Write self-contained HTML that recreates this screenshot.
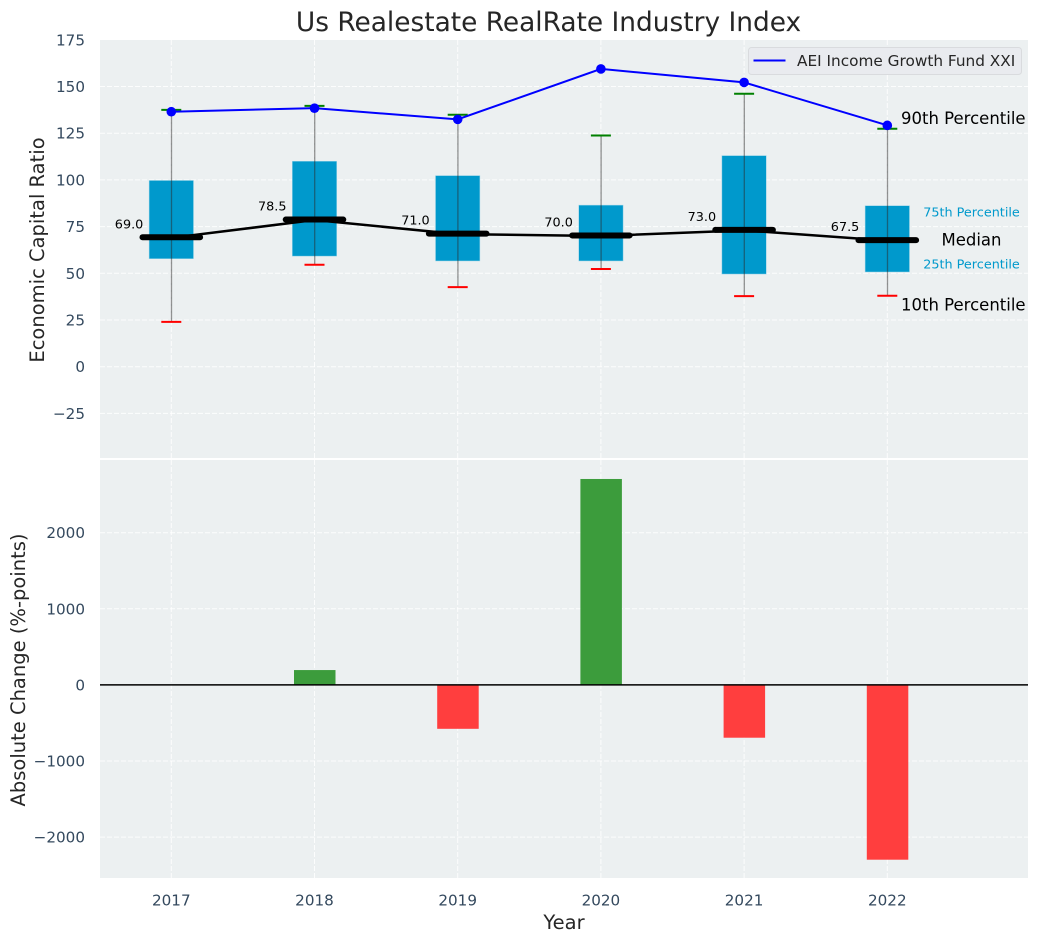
<!DOCTYPE html>
<html lang="en">
<head>
<meta charset="utf-8">
<title>Us Realestate RealRate Industry Index</title>
<style>
html,body{margin:0;padding:0;background:#fff;}
svg{display:block;font-family:"DejaVu Sans","Liberation Sans",sans-serif;}
</style>
</head>
<body>
<svg id="chart" xmlns="http://www.w3.org/2000/svg" width="1039" height="942" viewBox="0 0 1039 942">
<rect x="100" y="40" width="928" height="418" fill="#ecf0f1"/>
<rect x="100" y="460" width="928" height="418" fill="#ecf0f1"/>
<g id="grid"></g>
<g id="bars"></g>
<g id="boxes"></g>
<g id="lines"></g>
<g id="labels"></g>
<text x="548.5" y="31" text-anchor="middle" font-size="26.4" fill="#262626">Us Realestate RealRate Industry Index</text>
<text transform="translate(44,250) rotate(-90)" text-anchor="middle" font-size="19.5" fill="#262626">Economic Capital Ratio</text>
<text transform="translate(25,670) rotate(-90)" text-anchor="middle" font-size="19.5" fill="#262626">Absolute Change (%-points)</text>
<text x="564" y="929" text-anchor="middle" font-size="19.5" fill="#262626">Year</text>
<g>
<rect x="748.5" y="47.5" width="273" height="27" rx="3" fill="#e9ebef" stroke="#d9dbde" stroke-width="1"/>
<line x1="753.5" y1="60.5" x2="785.5" y2="60.5" stroke="#0000ff" stroke-width="2"/>
<text x="797" y="66" font-size="15.3" fill="#262626">AEI Income Growth Fund XXI</text>
</g>
</svg>
<script>
const years = [2017, 2018, 2019, 2020, 2021, 2022];
const p90 = [137.5, 139.6, 134.9, 123.8, 146.1, 127.4];
const p75 = [99.7, 110, 102.3, 86.5, 113, 86.2];
const medians = [69, 78.5, 71, 70, 73, 67.5];
const p25 = [57.8, 59.2, 56.6, 56.6, 49.6, 50.7];
const p10 = [24, 54.6, 42.6, 52.3, 37.8, 38];
const fund = [136.5, 138.4, 132.4, 159.4, 152.2, 129.2];
const changes = [0, 195, -577, 2706, -694, -2297];
const topTicks = [175, 150, 125, 100, 75, 50, 25, 0, -25];
const bottomTicks = [2000, 1000, 0, -1000, -2000];

const NS = 'http://www.w3.org/2000/svg';
const xPos = function (year) { return 171.3 + (year - 2017) * 143.2; };
const yTop = function (v) { return 366.7 - v * 1.868; };
const yBottom = function (v) { return 684.9 - v * 0.0761; };
const fmt = function (v) { return String(v).replace('-', '\u2212'); };

function make(parent, tag, attrs, text) {
  const el = document.createElementNS(NS, tag);
  for (const key in attrs) el.setAttribute(key, attrs[key]);
  if (text !== undefined) el.textContent = text;
  document.getElementById(parent).appendChild(el);
  return el;
}

const gridStyle = { stroke: '#ffffff', 'stroke-width': 1, 'stroke-opacity': 0.85, 'stroke-dasharray': '5 2', fill: 'none' };

topTicks.forEach(function (t) {
  const y = yTop(t);
  if (t !== 175) {
    const g = make('grid', 'line', Object.assign({ x1: 100, x2: 1028, y1: y, y2: y }, gridStyle));
    
    
  }
  const lab = make('labels', 'text', { x: 85, y: y + 5.5, 'text-anchor': 'end', 'font-size': 15.2, fill: '#34495e' }, fmt(t));
  
  
});

bottomTicks.forEach(function (t) {
  const y = yBottom(t);
  const g = make('grid', 'line', Object.assign({ x1: 100, x2: 1028, y1: y, y2: y }, gridStyle));
  
  
  const lab = make('labels', 'text', { x: 85, y: y + 5.5, 'text-anchor': 'end', 'font-size': 15.2, fill: '#34495e' }, fmt(t));
  
  
});

years.forEach(function (yr, i) {
  const x = xPos(yr);
  const g1 = make('grid', 'line', Object.assign({ x1: x, x2: x, y1: 40, y2: 458 }, gridStyle));
  
  
  const g2 = make('grid', 'line', Object.assign({ x1: x, x2: x, y1: 460, y2: 878 }, gridStyle));
  
  
  const lab = make('labels', 'text', { x: x, y: 905.5, 'text-anchor': 'middle', 'font-size': 15.2, fill: '#34495e' }, yr);
  
  

  const c = changes[i];
  if (c !== 0) {
    const y0 = yBottom(0), y1 = yBottom(c);
    const bar = make('bars', 'rect', {
      x: x - 20.5, width: 41.5, y: Math.min(y0, y1), height: Math.abs(y1 - y0),
      fill: c > 0 ? '#3c9c3c' : '#ff3e3e'
    });
    
    
  }

  const box = make('boxes', 'rect', {
    x: x - 22.2, width: 44.4, y: yTop(p75[i]), height: yTop(p25[i]) - yTop(p75[i]),
    fill: '#0099cc', stroke: '#9fd6e8', 'stroke-width': 0.5
  });
  
  
  const whisker = make('boxes', 'line', { x1: x + 0.2, x2: x + 0.2, y1: yTop(p90[i]), y2: yTop(p10[i]), stroke: '#2a2a2a', 'stroke-width': 1.3, 'stroke-opacity': 0.5 });
  
  
  const capTop = make('boxes', 'line', { x1: x - 10, x2: x + 10, y1: yTop(p90[i]), y2: yTop(p90[i]), stroke: '#008000', 'stroke-width': 2 });
  
  
  const capBottom = make('boxes', 'line', { x1: x - 10, x2: x + 10, y1: yTop(p10[i]), y2: yTop(p10[i]), stroke: '#ff0000', 'stroke-width': 2 });
  
  

  const val = make('labels', 'text', { x: x - 28, y: yTop(medians[i]) - 9.5, 'text-anchor': 'end', 'font-size': 12.8, fill: '#000000' }, medians[i].toFixed(1));
  
  
});

const medianPoints = years.map(function (yr, i) { return xPos(yr) + ',' + yTop(medians[i]); }).join(' ');
const medianLine = make('lines', 'polyline', { points: medianPoints, fill: 'none', stroke: '#000000', 'stroke-width': 2.5 });



years.forEach(function (yr, i) {
  const x = xPos(yr);
  const m = make('lines', 'line', { x1: x - 28.8, x2: x + 28.8, y1: yTop(medians[i]) - 0.5, y2: yTop(medians[i]) - 0.5, stroke: '#000000', 'stroke-width': 6, 'stroke-linecap': 'round' });
  
  
});

const fundPoints = years.map(function (yr, i) { return xPos(yr) + ',' + yTop(fund[i]); }).join(' ');
const fundLine = make('lines', 'polyline', { points: fundPoints, fill: 'none', stroke: '#0000ff', 'stroke-width': 2 });


years.forEach(function (yr, i) {
  const pt = make('lines', 'circle', { cx: xPos(yr), cy: yTop(fund[i]), r: 4.8, fill: '#0000ff' });
  
  
});

const zeroLine = make('lines', 'line', { x1: 100, x2: 1028, y1: yBottom(0), y2: yBottom(0), stroke: '#000000', 'stroke-width': 1.5 });



const last = years.length - 1;
const a90 = make('labels', 'text', { x: 901, y: yTop(p90[last]) - 4.5, 'font-size': 16.5, fill: '#000000' }, '90th Percentile');


const a10 = make('labels', 'text', { x: 901, y: yTop(p10[last]) + 15, 'font-size': 16.5, fill: '#000000' }, '10th Percentile');


const aMed = make('labels', 'text', { x: 971.5, y: yTop(medians[last]) + 5, 'text-anchor': 'middle', 'font-size': 16.5, fill: '#000000' }, 'Median');


const a75 = make('labels', 'text', { x: 971.5, y: yTop(p75[last]) + 11, 'text-anchor': 'middle', 'font-size': 12.8, fill: '#0099cc' }, '75th Percentile');


const a25 = make('labels', 'text', { x: 971.5, y: yTop(p25[last]) - 3.5, 'text-anchor': 'middle', 'font-size': 12.8, fill: '#0099cc' }, '25th Percentile');


</script>
</body>
</html>
